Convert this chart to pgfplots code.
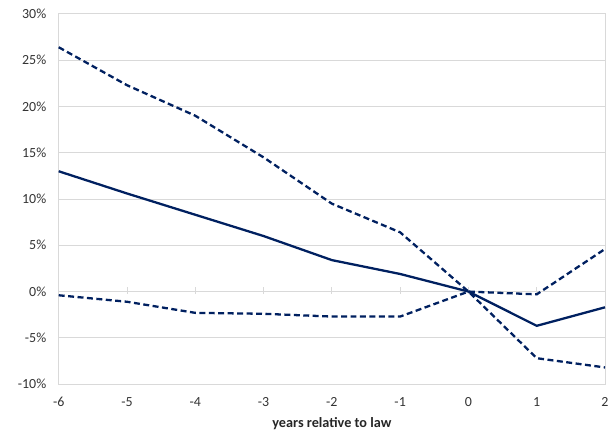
\documentclass[border=0pt]{standalone}
\usepackage{pgfplots}
\pgfplotsset{compat=1.18}
\usepackage{fontspec}
\setmainfont{Carlito}
\definecolor{navy}{HTML}{002060}
\definecolor{gridgray}{HTML}{D9D9D9}
\begin{document}
\begin{tikzpicture}
\begin{axis}[
  at={(0,0)}, anchor=south west,
  scale only axis, width=549pt, height=372pt,
  xmin=-6, xmax=2, ymin=-10, ymax=30,
  xtick={-6,...,2}, ytick={-10,-5,...,30},
  yticklabel={\pgfmathprintnumber{\tick}\%},
  /pgf/number format/assume math mode=true,
  ymajorgrids, grid style={gridgray, line width=0.9pt},
  axis line style={gridgray, line width=0.9pt},
  major tick length=0pt,
  tick label style={font=\fontsize{14}{16}\selectfont, text=black!80},
  yticklabel style={xshift=-9pt},
  xticklabel style={yshift=-10pt},
  xlabel={years relative to law},
  xlabel style={font=\fontsize{14.3}{16}\selectfont\bfseries, text=black!85, at={(axis description cs:0.5,0)}, anchor=north, yshift=-30pt},
  clip=false,
]
\draw[gridgray, line width=0.9pt] (axis cs:-6,0) -- (axis cs:2,0);
\foreach \k in {-5,-4,-3,-2,-1,0,1}{
  \edef\temp{\noexpand\draw[gridgray, line width=0.9pt] ([yshift=-2pt]axis cs:\k,0) -- ([yshift=5pt]axis cs:\k,0);}
  \temp
}
\addplot[navy, line width=2.3pt, dash pattern=on 6pt off 3.5pt] coordinates {
(-6,26.4) (-5,22.3) (-4,19.0) (-3,14.5) (-2,9.5) (-1,6.4) (0,0) (1,-7.2) (2,-8.2)};
\addplot[navy, line width=2.3pt] coordinates {
(-6,13.0) (-5,10.6) (-4,8.3) (-3,6.0) (-2,3.4) (-1,1.9) (0,0) (1,-3.7) (2,-1.7)};
\addplot[navy, line width=2.3pt, dash pattern=on 6pt off 3.5pt] coordinates {
(-6,-0.4) (-5,-1.1) (-4,-2.3) (-3,-2.4) (-2,-2.7) (-1,-2.7) (0,0) (1,-0.3) (2,4.6)};
\end{axis}
\pgfresetboundingbox
\path (-59pt,-51pt) rectangle (554pt,386pt);
\end{tikzpicture}
\end{document}
